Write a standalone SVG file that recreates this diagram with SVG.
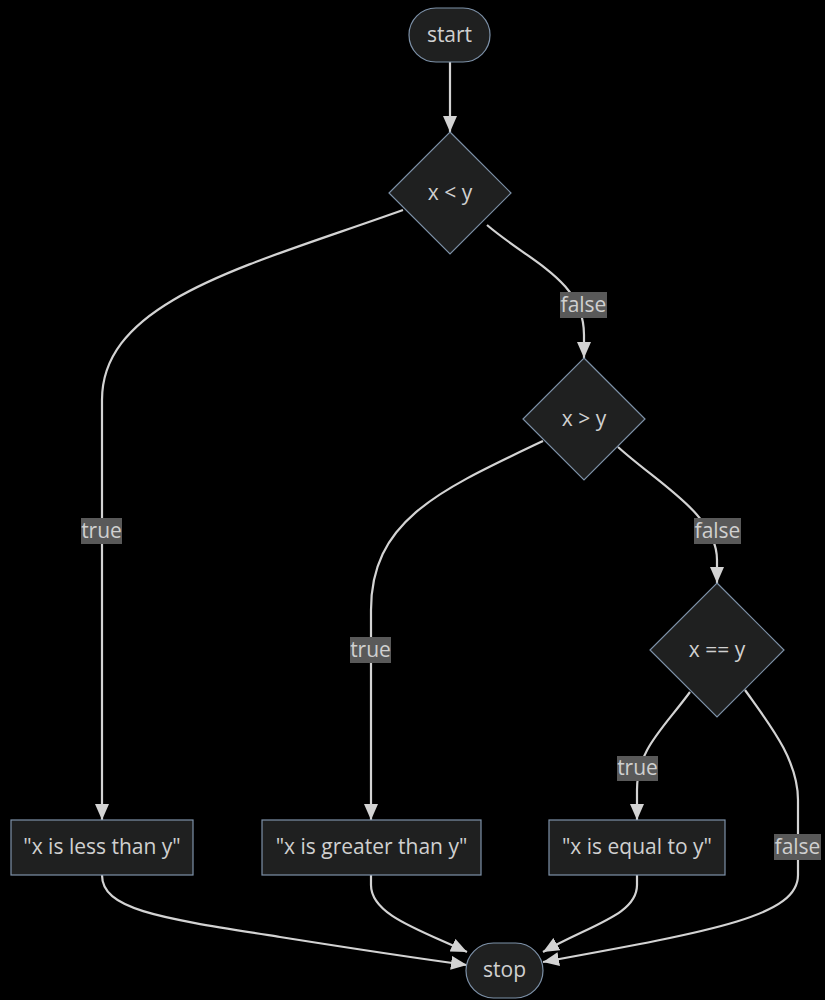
<svg xmlns="http://www.w3.org/2000/svg" width="825" height="1000" viewBox="0 0 825 1000">
<defs>
<style>
.node{fill:#1f2020;stroke:#7d91a8;stroke-width:1.2}
.t{font-family:"Open Sans","Noto Sans",sans-serif;font-size:21px;fill:#d0d0d0;text-anchor:middle;dominant-baseline:central}
.e{fill:none;stroke:#d3d3d3;stroke-width:2.2}
.lb{fill:#595959}
</style>
<marker id="ah" viewBox="0 0 16 14" refX="16" refY="7" markerWidth="16" markerHeight="14" markerUnits="userSpaceOnUse" orient="auto">
<path d="M0,0 L16,7 L0,14 z" fill="#d3d3d3"/>
</marker>
</defs>
<rect width="825" height="1000" fill="#000"/>
<g id="connectors">
<path class="e" d="M450,62 L450,132" marker-end="url(#ah)"/>
<path class="e" d="M403,210 C250,265 102,300 102,400 L102,820" marker-end="url(#ah)"/>
<path class="e" d="M487,225 C530,262 584,280 584,335 L584,358" marker-end="url(#ah)"/>
<path class="e" d="M543,441 C440,490 371,520 371,610 L371,820" marker-end="url(#ah)"/>
<path class="e" d="M618,447 C660,485 717,515 717,560 L717,583" marker-end="url(#ah)"/>
<path class="e" d="M690,692 C662,730 637,750 637,790 L637,820" marker-end="url(#ah)"/>
<path class="e" d="M745,690 C770,725 798,760 798,800 L798,875 C798,915 720,930 543,962" marker-end="url(#ah)"/>
<path class="e" d="M102,875 C102,910 160,918 280,937 S430,960 467,965" marker-end="url(#ah)"/>
<path class="e" d="M371,875 L371,885 C371,915 420,930 467,952" marker-end="url(#ah)"/>
<path class="e" d="M637,875 L637,885 C637,915 590,925 543,952" marker-end="url(#ah)"/>
<g id="edge-labels">
<rect class="lb" x="81" y="518" width="41" height="26"/><text class="t" x="101.5" y="530">true</text>
<rect class="lb" x="560" y="292" width="47" height="26"/><text class="t" x="583.5" y="304">false</text>
<rect class="lb" x="350" y="637" width="41" height="26"/><text class="t" x="370.5" y="649">true</text>
<rect class="lb" x="694" y="518" width="47" height="26"/><text class="t" x="717.5" y="530">false</text>
<rect class="lb" x="617" y="756" width="41" height="25"/><text class="t" x="637.5" y="767">true</text>
<rect class="lb" x="774" y="834" width="47" height="26"/><text class="t" x="797.5" y="846">false</text>
</g>
</g>
<g id="start"><rect class="node" x="409" y="8" width="81" height="54" rx="27" ry="27"/><text class="t" x="449.5" y="34">start</text></g>
<g id="cond1"><polygon class="node" points="450,132 511,193 450,254 389,193"/><text class="t" x="450" y="192">x &lt; y</text></g>
<g id="cond2"><polygon class="node" points="584,358 645,419 584,480 523,419"/><text class="t" x="584" y="418">x &gt; y</text></g>
<g id="cond3"><polygon class="node" points="717,583 784,650 717,717 650,650"/><text class="t" x="717" y="649">x == y</text></g>
<g id="less"><rect class="node" x="11" y="820" width="182" height="55"/><text class="t" x="102" y="846">"x is less than y"</text></g>
<g id="greater"><rect class="node" x="262" y="820" width="219" height="55"/><text class="t" x="371.5" y="846">"x is greater than y"</text></g>
<g id="equal"><rect class="node" x="549" y="820" width="176" height="55"/><text class="t" x="637" y="846">"x is equal to y"</text></g>
<g id="stop"><rect class="node" x="466" y="943" width="77" height="55" rx="27.5" ry="27.5"/><text class="t" x="504.5" y="969">stop</text></g>
</svg>
